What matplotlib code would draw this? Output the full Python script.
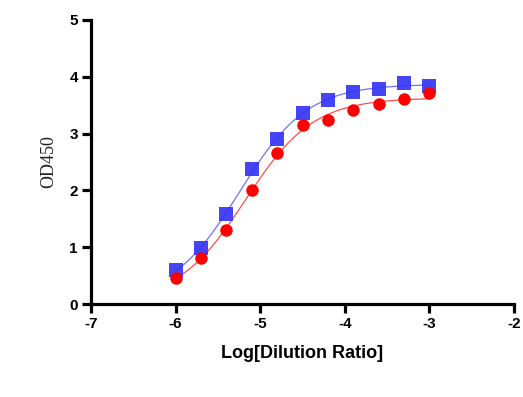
import numpy as np
import matplotlib.pyplot as plt

# log10 dilution ratio (2-fold steps)
log_dilution = [-6.0, -5.7, -5.4, -5.1, -4.8, -4.5, -4.2, -3.9, -3.6, -3.3, -3.0]

od_blue = [0.60, 0.98, 1.59, 2.37, 2.90, 3.36, 3.59, 3.73, 3.79, 3.89, 3.84]
od_red = [0.46, 0.81, 1.30, 2.00, 2.65, 3.15, 3.23, 3.42, 3.52, 3.61, 3.71]

x_ticks = [-7, -6, -5, -4, -3, -2]
y_ticks = [0, 1, 2, 3, 4, 5]


def logistic4(x, p):
    bottom, top, ec50, slope = p
    return bottom + (top - bottom) / (1.0 + 10 ** ((ec50 - x) * slope))


def fit_logistic4(x, y, n_iter=200):
    # small Levenberg-Marquardt fit, numpy only
    x = np.asarray(x, float)
    y = np.asarray(y, float)
    p = np.array([y.min() - 0.2, y.max(), np.median(x), 1.0])
    lam = 1e-2
    for _ in range(n_iter):
        r = y - logistic4(x, p)
        J = np.empty((len(x), 4))
        for k in range(4):
            dp = np.zeros(4)
            dp[k] = 1e-6
            J[:, k] = (logistic4(x, p + dp) - logistic4(x, p - dp)) / 2e-6
        A = J.T @ J
        step = np.linalg.solve(A + lam * np.diag(np.diag(A)), J.T @ r)
        new = p + step
        if np.sum((y - logistic4(x, new)) ** 2) < np.sum(r ** 2):
            p = new
            lam *= 0.5
        else:
            lam *= 4
    return p


fig = plt.figure(figsize=(5.23, 3.97), dpi=100)
ax = fig.add_axes([0.174, 0.234, 0.809, 0.716])

xs = np.linspace(min(log_dilution), max(log_dilution), 200)
for vals, color, marker, ms, alpha in [
    (od_blue, "#3535f5", "s", 9.5, 0.92),
    (od_red, "#ff0000", "o", 9.0, 1.0),
]:
    p = fit_logistic4(log_dilution, vals)
    ax.plot(xs, logistic4(xs, p), color=color, lw=0.9, alpha=0.7, zorder=2)
    ax.plot(log_dilution, vals, linestyle="none", marker=marker, ms=ms,
            color=color, markeredgewidth=0, alpha=alpha, zorder=3)

ax.set_xlim(-7, -2)
ax.set_ylim(0, 5)
ax.set_xticks(x_ticks)
ax.set_yticks(y_ticks)
ax.set_xticklabels([str(t) for t in x_ticks])

for s in ["top", "right"]:
    ax.spines[s].set_visible(False)
for s in ["left", "bottom"]:
    ax.spines[s].set_linewidth(2.3)
ax.tick_params(width=2.3, length=6.5, direction="out", pad=3)
for lab in ax.get_xticklabels() + ax.get_yticklabels():
    lab.set_fontfamily("Liberation Sans")
    lab.set_fontweight("bold")
    lab.set_fontsize(11)

ax.set_xlabel("Log[Dilution Ratio]", fontfamily="Liberation Sans",
              fontweight="bold", fontsize=13, labelpad=10)
ax.set_ylabel("OD450", fontfamily="Liberation Serif", fontsize=13,
              color="#222222", labelpad=9)

fig.savefig("out.png", dpi=100)
